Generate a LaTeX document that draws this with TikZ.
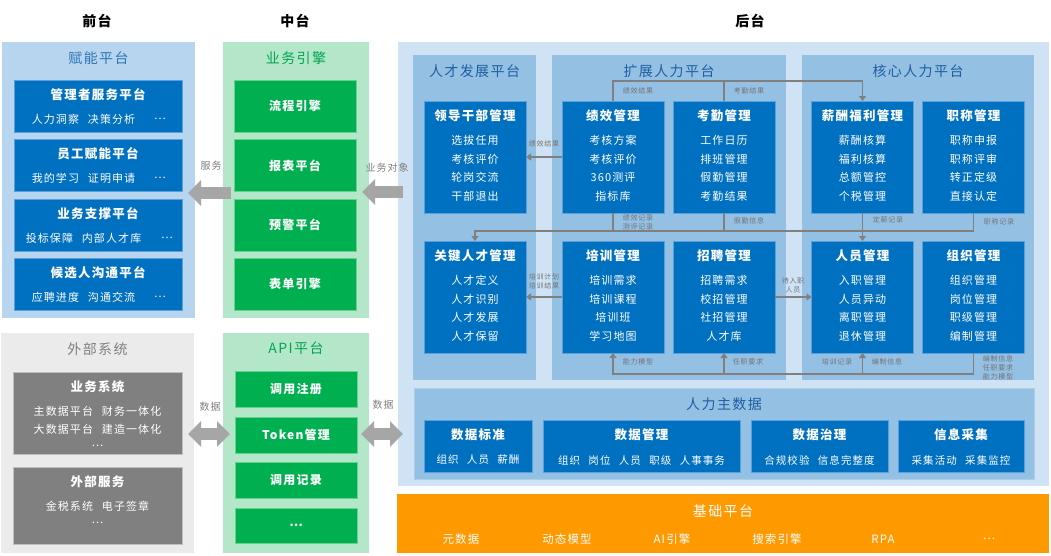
\documentclass[tikz,border=0pt]{standalone}
\usepackage{fontspec}
\setmainfont{Noto Sans CJK SC}[LetterSpace=10]
\usetikzlibrary{arrows.meta}

\definecolor{fnbg}{RGB}{183,213,238}
\definecolor{dblue}{RGB}{0,112,192}
\definecolor{dbord}{RGB}{90,160,220}
\definecolor{ptitle}{RGB}{46,117,182}
\definecolor{gbg}{RGB}{180,230,202}
\definecolor{gboxc}{RGB}{0,176,80}
\definecolor{gbord}{RGB}{100,210,140}
\definecolor{gtitle}{RGB}{0,166,81}
\definecolor{xbg}{RGB}{235,235,235}
\definecolor{xboxc}{RGB}{128,128,128}
\definecolor{xbord}{RGB}{190,190,190}
\definecolor{xtitle}{RGB}{128,128,128}
\definecolor{htbg}{RGB}{207,227,244}
\definecolor{subbg}{RGB}{148,192,228}
\definecolor{subbd}{RGB}{170,206,236}
\definecolor{subtitle}{RGB}{31,94,160}
\definecolor{orng}{RGB}{255,153,0}
\definecolor{cgray}{RGB}{128,128,128}
\definecolor{lgray}{RGB}{115,115,115}
\definecolor{agray}{RGB}{166,166,166}

\newcommand{\wsp}{\hspace{0.8em}}
\newcommand{\fnbox}[5]{%
  \node[fbox, minimum width=168, minimum height=52] (#1) at (98,#2+26) {};
  \node[btl] at (98,#2+15) {#3};
  \node[bit] at (83.5,#2+39) {#4};
  \node[bit] at (#5,#2+39) {…};}
\newcommand{\hrbox}[8]{%
  \node[hbox] (#1) at (#2,#3+56) {};
  \node[btl] at (#2,#3+14.5) {#4};
  \node[bit] at (#2,#3+39.5) {#5};
  \node[bit] at (#2,#3+58) {#6};
  \node[bit] at (#2,#3+76.5) {#7};
  \node[bit] at (#2,#3+95) {#8};}
\newcommand{\mdbox}[5]{%
  \node[fbox, minimum width=#3, minimum height=52] (#1) at (#2,446) {};
  \node[btl] at (#2,435) {#4};
  \node[sit] at (#2,460) {#5};}

\begin{document}
\begin{tikzpicture}[x=1pt,y=-1pt,
  hdr/.style={font=\fontsize{14}{16}\selectfont\bfseries},
  ptl/.style={font=\fontsize{14}{16}\selectfont},
  btl/.style={font=\fontsize{12.5}{14}\selectfont\bfseries, text=white},
  bit/.style={font=\fontsize{11}{13}\selectfont, text=white},
  sit/.style={font=\fontsize{10.5}{12}\selectfont, text=white},
  lab/.style={font=\fontsize{7}{9}\selectfont, text=lgray, align=center, inner sep=0},
  blab/.style={font=\fontsize{10}{12}\selectfont, text=cgray},
  panel/.style={inner sep=0, outer sep=0, draw=none},
  fbox/.style={panel, fill=dblue, draw=dbord, line width=0.8},
  gbx/.style={panel, fill=gboxc, draw=gbord, line width=0.8, minimum width=122,
    text=white, font=\fontsize{12}{14}\selectfont\bfseries},
  xbx/.style={panel, fill=xboxc, draw=xbord, line width=0.8},
  hbox/.style={fbox, minimum width=102, minimum height=112},
  conn/.style={draw=cgray, line width=1.1},
  arr/.style={-{Triangle[length=5pt,width=7pt]}},
  barrow/.style={draw=agray, line width=12, -{Triangle[length=13pt,width=25pt]}},
  dbarrow/.style={draw=agray, line width=12,
    {Triangle[length=13pt,width=25pt]}-{Triangle[length=13pt,width=25pt]}},
  itm/.style={font=\fontsize{11.5}{13}\selectfont, text=white}
]
\useasboundingbox[fill=white] (0,0) rectangle (1051,555);

% headers
\node[hdr] (h1) at (97,21) {前台};
\node[hdr] (h2) at (295,21) {中台};
\node[hdr] (h3) at (750,21) {后台};

% ---------- front ----------
\node[panel, fill=fnbg, minimum width=193, minimum height=276] (fn) at (98.5,180) {};
\node[ptl, text=ptitle] (fnt) at (98.5,58) {赋能平台};
\fnbox{f1}{80}{管理者服务平台}{人力洞察\wsp 决策分析}{160}
\fnbox{f2}{139}{员工赋能平台}{我的学习\wsp 证明申请}{160}
\fnbox{f3}{199}{业务支撑平台}{投标保障\wsp 内部人才库}{167}
\fnbox{f4}{258}{候选人沟通平台}{应聘进度\wsp 沟通交流}{160}

% ---------- middle ----------
\node[panel, fill=gbg, minimum width=146, minimum height=276] (yw) at (296,180) {};
\node[ptl, text=gtitle] (ywt) at (296,58) {业务引擎};
\node[gbx, minimum height=52] (g1) at (295,106) {流程引擎};
\node[gbx, minimum height=52] (g2) at (295,165.5) {报表平台};
\node[gbx, minimum height=52] (g3) at (295,225) {预警平台};
\node[gbx, minimum height=52] (g4) at (295,284) {表单引擎};

% ---------- external ----------
\node[panel, fill=xbg, minimum width=193, minimum height=220] (wb) at (97.5,443) {};
\node[ptl, text=xtitle] (wbt) at (97.5,349) {外部系统};
\node[xbx, minimum width=169, minimum height=82] (e1) at (97.5,413) {};
\node[btl] at (97.5,387) {业务系统};
\node[bit] at (97.5,411) {主数据平台\wsp 财务一体化};
\node[bit] at (97.5,429) {大数据平台\wsp 建造一体化};
\node[bit] at (97.5,446) {…};
\node[xbx, minimum width=169, minimum height=77] (e2) at (97.5,505.5) {};
\node[btl] at (97.5,482) {外部服务};
\node[bit] at (97.5,506) {金税系统\wsp 电子签章};
\node[bit] at (97.5,523) {…};

% ---------- API ----------
\node[panel, fill=gbg, minimum width=146, minimum height=220] (api) at (296,443) {};
\node[ptl, text=gtitle] (apit) at (296,348) {API平台};
\node[gbx, minimum height=36] (a1) at (296,389) {调用注册};
\node[gbx, minimum height=36] (a2) at (296,435) {Token管理};
\node[gbx, minimum height=36] (a3) at (296,480) {调用记录};
\node[gbx, minimum height=35] (a4) at (296,525.5) {…};

% ---------- back ----------
\node[panel, fill=htbg, minimum width=651, minimum height=444] (ht) at (723.5,264) {};
\node[panel, fill=subbg, minimum width=123, minimum height=325] (rc) at (474.5,217.5) {};
\node[ptl, text=subtitle] at (474.5,71) {人才发展平台};
\node[panel, fill=subbg, minimum width=234, minimum height=325] (kz) at (669,217.5) {};
\node[ptl, text=subtitle] at (669,71) {扩展人力平台};
\node[panel, fill=subbg, minimum width=232, minimum height=325] (hx) at (918,217.5) {};
\node[ptl, text=subtitle] at (918,71) {核心人力平台};

\hrbox{ld}{475}{101}{领导干部管理}{选拔任用}{考核评价}{轮岗交流}{干部退出}
\hrbox{jx}{613}{101}{绩效管理}{考核方案}{考核评价}{360测评}{指标库}
\hrbox{kq}{724}{101}{考勤管理}{工作日历}{排班管理}{假勤管理}{考勤结果}
\hrbox{xc}{862.5}{101}{薪酬福利管理}{薪酬核算}{福利核算}{总额管控}{个税管理}
\hrbox{zc}{973.5}{101}{职称管理}{职称申报}{职称评审}{转正定级}{直接认定}
\hrbox{kr}{475}{241}{关键人才管理}{人才定义}{人才识别}{人才发展}{人才保留}
\hrbox{px}{613}{241}{培训管理}{培训需求}{培训课程}{培训班}{学习地图}
\hrbox{zp}{724}{241}{招聘管理}{招聘需求}{校招管理}{社招管理}{人才库}
\hrbox{ry}{862.5}{241}{人员管理}{入职管理}{人员异动}{离职管理}{退休管理}
\hrbox{zz}{973.5}{241}{组织管理}{组织管理}{岗位管理}{职级管理}{编制管理}

% master data
\node[panel, fill=subbg, draw=subbd, line width=0.6, minimum width=620, minimum height=91] (zsj) at (724,433.5) {};
\node[ptl, text=subtitle] at (724,404) {人力主数据};
\mdbox{d1}{478}{108}{数据标准}{组织\wsp 人员\wsp 薪酬}
\mdbox{d2}{641.5}{197}{数据管理}{组织\wsp 岗位\wsp 人员\wsp 职级\wsp 人事事务}
\mdbox{d3}{819.5}{137}{数据治理}{合规校验\wsp 信息完整度}
\mdbox{d4}{961}{126}{信息采集}{采集活动\wsp 采集监控}

% base platform
\node[panel, fill=orng, minimum width=652, minimum height=59] (jc) at (723,523.5) {};
\node[ptl, text=white] at (723,511) {基础平台};
\node[itm] at (461,539) {元数据};
\node[itm] at (567,539) {动态模型};
\node[itm] at (672,539) {AI引擎};
\node[itm] at (777,539) {搜索引擎};
\node[itm] at (883,539) {RPA};
\node[itm] at (989,539) {…};

% ---------- block arrows ----------
\draw[barrow] ([shift={(8,13)}]yw.west) -- ([shift={(-7,13)}]fn.east);
\node[blab] at (211,166) {服务};
\draw[barrow] ([shift={(5,-72)}]ht.west) -- ([shift={(-7,12)}]yw.east);
\node[blab] at (387,168) {业务对象};
\draw[dbarrow] ([shift={(-6,-9)}]wb.east) -- ([shift={(7,-9)}]api.west);
\node[blab] at (210,407) {数据};
\draw[dbarrow] ([shift={(-8,-9)}]api.east) -- ([shift={(5,170)}]ht.west);
\node[blab] at (383,405) {数据};

% ---------- connectors ----------
\draw[conn,arr] (jx.north) -- ++(0,-20) -| (xc.north);
\draw[conn] (kq.north) -- ++(0,-20);
\node[lab] at (638,91) {绩效结果};
\node[lab] at (749,91) {考勤结果};

\draw[conn,arr] (jx.west) -- (ld.east);
\node[lab] at (544,144) {绩效结果};

\draw[conn,arr] (zc.south) -- ++(0,18) -| (kr.north);
\draw[conn] (jx.south) -- ++(0,18);
\draw[conn] (kq.south) -- ++(0,18);
\draw[conn,arr] (xc.south) -- (ry.north);
\node[lab] at (638,222.5) {绩效记录\\测评记录};
\node[lab] at (749,221) {假勤信息};
\node[lab] at (888,220) {定薪记录};
\node[lab] at (999,222) {职称记录};

\draw[conn,arr] (px.west) -- (kr.east);
\node[lab] at (544,281) {培训计划\\培训结果};
\draw[conn,arr] (zp.east) -- (ry.west);
\node[lab] at (793,285.5) {待入职\\人员};

\draw[conn,arr] (zz.south) -- ++(0,21) -| (px.south);
\draw[conn,arr] ([yshift=-21pt]zp.south) -- (zp.south);
\draw[conn,arr] ([yshift=-21pt]ry.south) -- (ry.south);
\node[lab] at (638,362) {能力模型};
\node[lab] at (748,362) {任职要求};
\node[lab] at (837,362) {培训记录};
\node[lab] at (887,362) {编制信息};
\node[lab] at (998,367.5) {编制信息\\任职要求\\能力模型};
\end{tikzpicture}
\end{document}
